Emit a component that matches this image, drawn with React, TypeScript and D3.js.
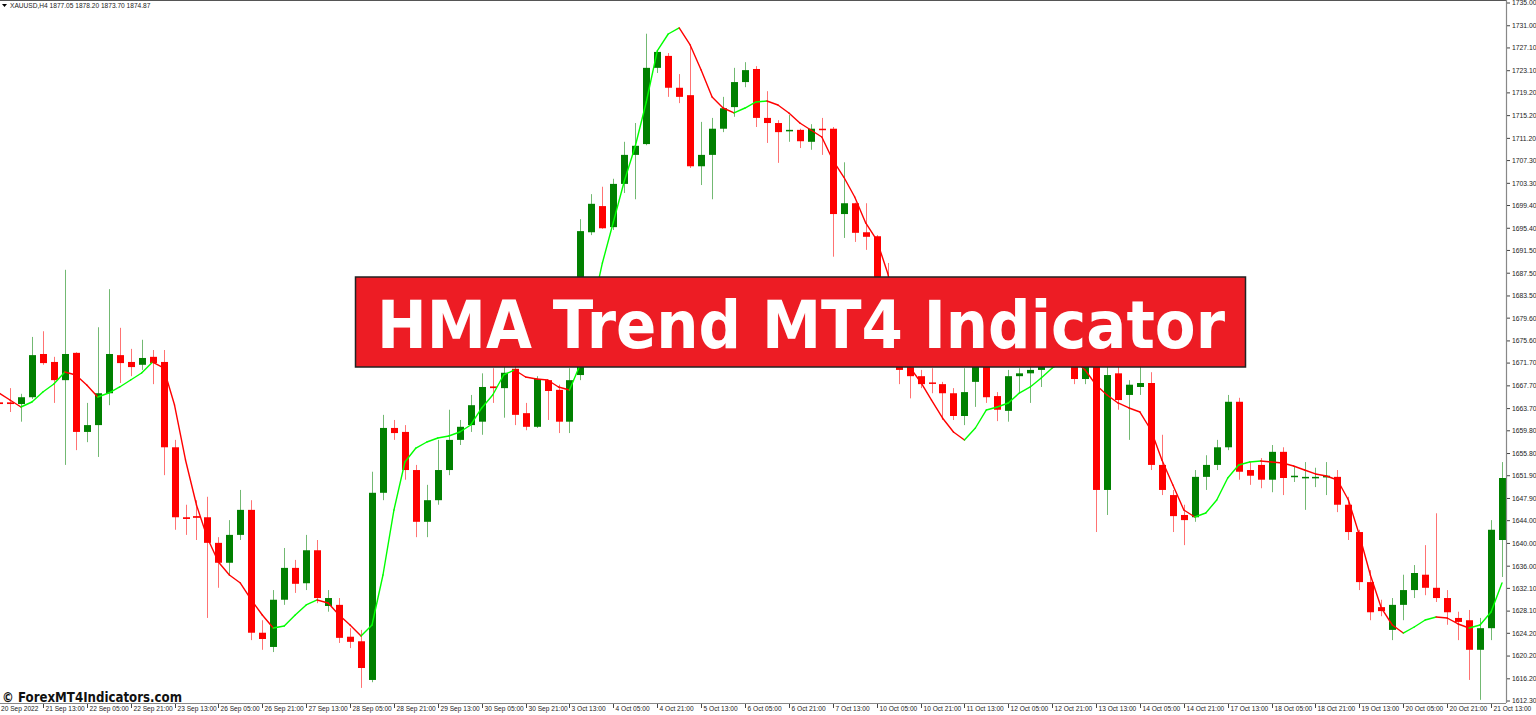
import React from 'react';
import * as d3 from 'd3';

const opens = [
  1664.8, 1664.8, 1664.5, 1665.7, 1673.3, 1671.9, 1668.7, 1673.5, 1659.6, 1660.8,
  1666.4, 1673.1, 1671.9, 1671.4, 1672.8, 1671.9, 1656.9, 1644.6, 1644.8, 1644.6,
  1640.1, 1636.6, 1641.5, 1645.9, 1624.3, 1621.8, 1630.1, 1635.7, 1633.0, 1638.8,
  1629.0, 1629.2, 1623.6, 1622.8, 1616.0, 1648.9, 1660.3, 1659.6, 1652.9, 1643.8,
  1647.6, 1652.9, 1658.2, 1660.8, 1661.4, 1667.6, 1667.3, 1670.7, 1662.9, 1660.5,
  1668.7, 1667.0, 1661.4, 1669.6, 1694.7, 1699.3, 1695.6, 1703.2, 1708.3, 1710.2,
  1723.6, 1725.7, 1720.1, 1718.8, 1706.3, 1708.3, 1712.9, 1716.7, 1721.1, 1723.4,
  1714.8, 1713.9, 1712.5, 1712.7, 1710.6, 1712.9, 1712.9, 1697.9, 1699.8, 1694.7,
  1694.0, 1684.5, 1675.8, 1671.0, 1669.4, 1668.3, 1668.0, 1666.4, 1662.4, 1668.4,
  1671.5, 1665.9, 1663.3, 1669.4, 1669.9, 1670.5, 1673.5, 1676.0, 1674.0, 1668.9,
  1672.8, 1649.4, 1669.9, 1666.1, 1667.5, 1668.2, 1653.8, 1648.5, 1645.0, 1644.6,
  1651.7, 1653.8, 1656.9, 1664.9, 1652.9, 1653.8, 1651.2, 1656.1, 1651.7, 1651.5,
  1651.5, 1651.6, 1651.7, 1646.8, 1642.0, 1633.2, 1628.8, 1624.8, 1629.2, 1631.8,
  1634.5, 1632.2, 1630.4, 1626.9, 1626.5, 1621.3, 1625.1, 1640.6,
];
const highs = [
  1665.6, 1667.3, 1666.3, 1676.3, 1677.3, 1672.8, 1688.1, 1673.6, 1664.7, 1678.0,
  1684.7, 1677.9, 1674.2, 1675.8, 1674.0, 1674.0, 1658.2, 1646.8, 1647.6, 1648.2,
  1641.1, 1644.1, 1649.4, 1647.6, 1626.5, 1631.8, 1639.2, 1637.1, 1641.5, 1640.6,
  1631.8, 1630.4, 1625.1, 1624.8, 1652.6, 1662.6, 1661.7, 1660.8, 1653.8, 1650.3,
  1658.2, 1663.5, 1661.7, 1666.1, 1669.9, 1670.8, 1672.0, 1672.5, 1664.7, 1669.4,
  1668.8, 1667.9, 1670.8, 1697.0, 1701.4, 1702.7, 1704.1, 1710.6, 1713.9, 1729.6,
  1726.7, 1726.2, 1722.5, 1727.6, 1714.1, 1714.8, 1718.5, 1723.6, 1724.6, 1723.9,
  1719.5, 1714.4, 1715.3, 1712.9, 1713.7, 1714.8, 1713.2, 1707.0, 1699.9, 1699.8,
  1694.2, 1689.3, 1677.0, 1672.5, 1670.5, 1670.8, 1668.4, 1667.3, 1670.8, 1673.0,
  1673.0, 1666.6, 1670.5, 1670.8, 1671.0, 1675.0, 1678.0, 1677.5, 1675.0, 1673.0,
  1675.0, 1671.0, 1671.4, 1668.7, 1671.0, 1670.1, 1659.1, 1649.4, 1646.8, 1652.9,
  1655.5, 1658.2, 1666.1, 1665.6, 1654.3, 1655.0, 1657.3, 1656.9, 1653.6, 1654.3,
  1653.3, 1654.3, 1652.9, 1648.2, 1642.4, 1635.3, 1630.1, 1630.4, 1634.5, 1636.2,
  1639.7, 1645.3, 1631.8, 1628.0, 1628.3, 1626.9, 1644.1, 1654.3,
];
const lows = [
  1663.8, 1663.1, 1661.4, 1665.4, 1671.4, 1664.7, 1653.8, 1656.4, 1657.8, 1655.2,
  1664.3, 1668.2, 1669.4, 1670.5, 1668.0, 1652.0, 1642.4, 1641.5, 1640.6, 1626.9,
  1632.2, 1634.4, 1640.6, 1623.0, 1621.3, 1620.9, 1629.2, 1631.3, 1631.8, 1629.5,
  1628.0, 1622.5, 1621.6, 1614.6, 1615.6, 1647.6, 1658.2, 1651.2, 1641.1, 1641.1,
  1646.8, 1652.0, 1657.3, 1659.6, 1659.1, 1664.7, 1662.1, 1660.8, 1659.9, 1660.3,
  1661.7, 1659.4, 1659.4, 1668.7, 1694.2, 1695.3, 1695.1, 1701.6, 1700.5, 1710.0,
  1722.7, 1718.5, 1717.4, 1706.0, 1703.0, 1700.5, 1712.3, 1715.0, 1720.2, 1713.2,
  1710.4, 1706.9, 1710.6, 1709.5, 1709.2, 1708.3, 1690.4, 1693.7, 1693.0, 1691.6,
  1680.0, 1673.0, 1668.0, 1665.5, 1667.3, 1666.4, 1661.7, 1661.7, 1660.8, 1664.0,
  1664.7, 1661.5, 1661.4, 1666.4, 1664.7, 1667.5, 1672.0, 1672.0, 1668.0, 1668.0,
  1642.0, 1645.0, 1663.5, 1658.2, 1666.1, 1652.9, 1648.5, 1642.0, 1639.7, 1643.8,
  1649.4, 1652.9, 1656.4, 1651.2, 1650.3, 1649.7, 1649.0, 1648.5, 1650.8, 1645.9,
  1649.9, 1648.5, 1645.5, 1640.6, 1631.8, 1626.5, 1627.2, 1623.0, 1626.5, 1630.4,
  1630.9, 1629.7, 1625.7, 1623.0, 1616.0, 1612.5, 1623.0, 1634.1,
];
const closes = [
  1664.5, 1664.5, 1665.7, 1673.1, 1671.7, 1668.7, 1673.3, 1659.6, 1660.8, 1666.4,
  1673.3, 1671.7, 1671.0, 1672.6, 1671.7, 1656.9, 1644.6, 1644.3, 1644.5, 1640.1,
  1636.6, 1641.5, 1645.9, 1624.3, 1623.2, 1630.1, 1635.7, 1632.9, 1638.8, 1630.4,
  1630.4, 1623.4, 1622.7, 1618.1, 1648.9, 1660.3, 1659.4, 1652.9, 1643.8, 1647.6,
  1652.9, 1658.2, 1660.5, 1664.3, 1667.5, 1667.3, 1670.0, 1662.6, 1660.5, 1668.9,
  1666.8, 1661.4, 1668.7, 1694.9, 1699.7, 1695.4, 1703.2, 1708.3, 1709.9, 1723.6,
  1726.4, 1720.1, 1718.5, 1706.3, 1708.3, 1712.9, 1716.5, 1721.1, 1723.2, 1714.8,
  1713.9, 1712.3, 1712.7, 1710.7, 1712.9, 1712.7, 1697.9, 1699.8, 1694.6, 1693.9,
  1682.8, 1675.8, 1670.5, 1669.4, 1668.0, 1668.1, 1666.4, 1662.4, 1666.6, 1672.0,
  1665.7, 1663.5, 1669.4, 1669.9, 1670.5, 1673.5, 1676.0, 1674.0, 1668.9, 1671.5,
  1649.4, 1669.6, 1665.2, 1667.9, 1668.2, 1653.8, 1649.4, 1644.8, 1644.1, 1651.7,
  1653.8, 1656.9, 1664.9, 1652.6, 1651.9, 1651.2, 1656.1, 1651.5, 1651.9, 1651.7,
  1651.7, 1651.9, 1646.8, 1642.0, 1633.2, 1627.9, 1628.1, 1629.2, 1631.8, 1634.8,
  1632.2, 1630.4, 1627.9, 1626.2, 1621.3, 1625.1, 1642.4, 1651.5,
];
const hma = [
  1666.44, 1665.21, 1663.98, 1664.86, 1666.62, 1668.03, 1670.14, 1669.61, 1667.85, 1665.74,
  1666.44, 1667.5, 1668.73, 1669.96, 1671.89, 1670.84, 1664.33, 1654.67, 1646.75, 1640.95,
  1636.74, 1634.45, 1633.04, 1630.06, 1627.42, 1625.13, 1625.48, 1627.42, 1629.18, 1630.06,
  1629.53, 1627.42, 1625.66, 1623.73, 1625.66, 1634.45, 1645.88, 1654.31, 1656.77, 1657.83,
  1658.53, 1658.88, 1659.59, 1660.82, 1663.81, 1666.09, 1669.61, 1670.49, 1669.26, 1668.91,
  1668.73, 1667.5, 1666.97, 1671.54, 1680.51, 1689.3, 1696.5, 1703.71, 1709.86, 1717.6,
  1726.57, 1729.55, 1730.61, 1727.62, 1723.23, 1718.48, 1716.54, 1715.67, 1716.54, 1717.6,
  1717.77, 1717.07, 1715.67, 1713.91, 1712.68, 1711.45, 1707.4, 1704.41, 1700.9, 1696.33,
  1693.34, 1687.54, 1679.28, 1671.02, 1668.38, 1665.21, 1662.05, 1659.59, 1658.18, 1660.29,
  1663.46, 1663.98, 1664.69, 1666.44, 1667.5, 1669.08, 1670.84, 1671.89, 1672.25, 1670.49,
  1667.85, 1666.09, 1664.69, 1663.81, 1663.1, 1659.94, 1654.67, 1650.27, 1645.88, 1644.65,
  1645.35, 1647.63, 1651.5, 1653.79, 1654.31, 1654.49, 1654.31, 1654.14, 1653.61, 1652.91,
  1652.21, 1651.85, 1651.15, 1647.63, 1641.48, 1634.45, 1628.65, 1625.66, 1624.25, 1625.31,
  1626.54, 1627.07, 1626.89, 1625.84, 1625.13, 1625.66, 1627.95, 1633.04,
];
const priceTicks = [
  '1735.00', '1731.00', '1727.10', '1723.10', '1719.20', '1715.20', '1711.20', '1707.30',
  '1703.30', '1699.40', '1695.40', '1691.50', '1687.50', '1683.50', '1679.60', '1675.60',
  '1671.70', '1667.70', '1663.70', '1659.80', '1655.80', '1651.90', '1647.90', '1644.00',
  '1640.00', '1636.00', '1632.10', '1628.10', '1624.20', '1620.20', '1616.20', '1612.30',
];
const dateLabels = [
  '20 Sep 2022', '21 Sep 13:00', '22 Sep 05:00', '22 Sep 21:00', '23 Sep 13:00', '26 Sep 05:00',
  '26 Sep 21:00', '27 Sep 13:00', '28 Sep 05:00', '28 Sep 21:00', '29 Sep 13:00', '30 Sep 05:00',
  '30 Sep 21:00', '3 Oct 13:00', '4 Oct 05:00', '4 Oct 21:00', '5 Oct 13:00', '6 Oct 05:00',
  '6 Oct 21:00', '7 Oct 13:00', '10 Oct 05:00', '10 Oct 21:00', '11 Oct 13:00', '12 Oct 05:00',
  '12 Oct 21:00', '13 Oct 13:00', '14 Oct 05:00', '14 Oct 21:00', '17 Oct 13:00', '18 Oct 05:00',
  '18 Oct 21:00', '19 Oct 13:00', '20 Oct 05:00', '20 Oct 21:00', '21 Oct 13:00',
];
const headerText = 'XAUUSD,H4  1877.05 1878.20 1873.70 1874.87';
const bannerText = 'HMA Trend MT4 Indicator';
const watermark = '\u00A9 ForexMT4Indicators.com';

const W = 1536;
const H = 715;
const AXIS_X = 1506;
const AXIS_Y = 703;
const UP = '#008000';
const DOWN = '#FF0000';
const HMA_UP = '#00FF00';
const HMA_DOWN = '#FF0000';
const FONT = '"Liberation Sans", Arial, sans-serif';

export default function App() {
  const n = opens.length;
  const x = d3.scaleLinear().domain([0, n - 1]).range([-1, 1502]);
  const y = d3.scaleLinear().domain([1612.3, 1735]).range([701, 3]);
  const bodyW = 7;

  const hmaSegs = d3.range(n - 1).map((i) => {
    const line = d3.line<number>().x((d) => x(d)).y((d) => y(hma[d]));
    return {
      d: line([i, i + 1]) as string,
      color: hma[i + 1] >= hma[i] ? HMA_UP : HMA_DOWN,
    };
  });

  return (
    <svg
      width={W}
      height={H}
      style={{ position: 'absolute', left: 0, top: 0, background: '#fff' }}
    >
      <defs>
        <clipPath id="plot">
          <rect x={0} y={0} width={AXIS_X} height={AXIS_Y} />
        </clipPath>
      </defs>
      <rect x={0} y={0} width={W} height={H} fill="#fff" />
      <g clipPath="url(#plot)">
        {d3.range(n).map((i) => {
          const up = closes[i] >= opens[i];
          const col = up ? UP : DOWN;
          const cx = Math.round(x(i)) + 0.5;
          const top = y(Math.max(opens[i], closes[i]));
          const bot = y(Math.min(opens[i], closes[i]));
          return (
            <g key={i}>
              <line
                x1={cx}
                x2={cx}
                y1={y(highs[i])}
                y2={y(lows[i])}
                stroke={col}
                strokeOpacity={0.55}
                strokeWidth={1}
              />
              <rect
                x={cx - bodyW / 2}
                y={top}
                width={bodyW}
                height={Math.max(1.5, bot - top)}
                fill={col}
              />
            </g>
          );
        })}
        {hmaSegs.map((s, i) => (
          <path key={i} d={s.d} stroke={s.color} strokeWidth={1.4} fill="none" strokeLinecap="round" />
        ))}
      </g>

      {/* frame lines */}
      <line x1={0} x2={AXIS_X} y1={0.5} y2={0.5} stroke="#555" strokeWidth={1} />
      <line x1={AXIS_X + 0.5} x2={AXIS_X + 0.5} y1={0} y2={AXIS_Y} stroke="#888" strokeWidth={1.2} />
      <line x1={0} x2={AXIS_X} y1={AXIS_Y + 0.5} y2={AXIS_Y + 0.5} stroke="#888" strokeWidth={1.2} />

      {/* price axis */}
      {priceTicks.map((t) => {
        const ty = y(+t);
        return (
          <g key={t}>
            <line x1={AXIS_X + 1} x2={AXIS_X + 4} y1={ty} y2={ty} stroke="#444" strokeWidth={1} />
            <text
              x={AXIS_X + 6}
              y={ty}
              dy="0.35em"
              fontFamily={FONT}
              fontSize={6.8}
              fill="#222"
            >
              {t}
            </text>
          </g>
        );
      })}

      {/* time axis */}
      {dateLabels.map((lbl, k) => {
        const tx = Math.round(x(k * 4)) + 0.5;
        return (
          <g key={lbl}>
            {k > 0 && (
              <line x1={tx} x2={tx} y1={AXIS_Y + 1} y2={AXIS_Y + 5} stroke="#444" strokeWidth={1} />
            )}
            <text x={k === 0 ? 1 : tx + 2} y={711} fontFamily={FONT} fontSize={6.6} fill="#222">
              {lbl}
            </text>
          </g>
        );
      })}

      {/* header */}
      <path d="M2,4 L7,4 L4.5,7 Z" fill="#000" />
      <text x={10} y={8} fontFamily={FONT} fontSize={6.6} fill="#222">
        {headerText}
      </text>

      {/* banner */}
      <rect x={355.5} y={277} width={890} height={90} fill="#ED1C24" stroke="#222" strokeWidth={1.5} />
      <text
        x={377}
        y={348}
        fontFamily='"DejaVu Sans", Verdana, sans-serif'
        fontWeight="bold"
        fontSize={66}
        fill="#fff"
        textLength={848}
        lengthAdjust="spacingAndGlyphs"
      >
        {bannerText}
      </text>

      {/* watermark */}
      <text
        x={2}
        y={702}
        fontFamily='"DejaVu Sans", Verdana, sans-serif'
        fontWeight="bold"
        fontSize={14}
        fill="#111"
        textLength={180}
        lengthAdjust="spacingAndGlyphs"
      >
        {watermark}
      </text>
    </svg>
  );
}
